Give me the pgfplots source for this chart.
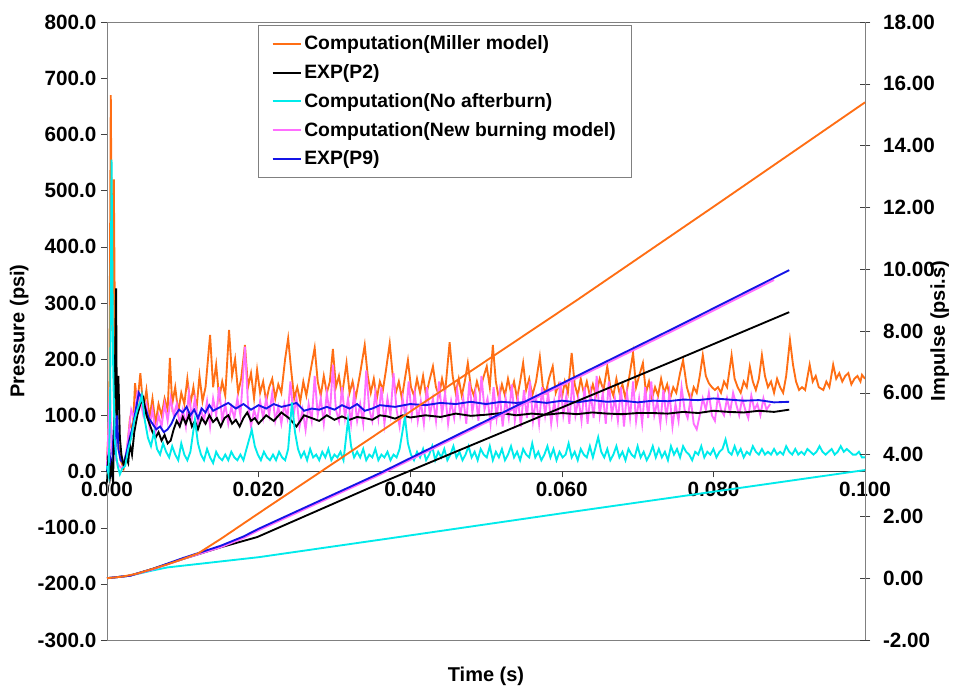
\documentclass[border=0pt]{standalone}
\usepackage{fontspec}
\setmainfont{Liberation Sans}
\usepackage{pgfplots}
\pgfplotsset{compat=1.18}
\definecolor{cOr}{RGB}{255,110,20}
\definecolor{cCy}{RGB}{0,235,235}
\definecolor{cMa}{RGB}{255,110,255}
\definecolor{cBl}{RGB}{20,20,230}
\definecolor{cFr}{RGB}{128,128,128}
\begin{document}
\begin{tikzpicture}
\useasboundingbox (-80.25pt,-37.5pt) rectangle (636pt,480pt);
\begin{axis}[
 at={(0pt,0pt)}, anchor=south west, scale only axis, width=568.5pt, height=463.5pt,
 xmin=0, xmax=0.1, ymin=-300, ymax=800, clip=false,
 axis x line=middle, axis y line=left,
 hide obscured x ticks=false, hide obscured y ticks=false,
 every inner x axis line/.append style={-},
 every outer y axis line/.append style={-},
 x axis line style={-, draw=black!75},
 y axis line style={-, draw=cFr},
 xtick={0,0.02,0.04,0.06,0.08,0.1},
 xticklabels={0.000,0.020,0.040,0.060,0.080,0.100},
 ytick={-300,-200,-100,0,100,200,300,400,500,600,700,800},
 yticklabels={-300.0,-200.0,-100.0,0.0,100.0,200.0,300.0,400.0,500.0,600.0,700.0,800.0},
 tick align=outside, major tick length=4.5pt,
 xtick style={draw=black!75}, ytick style={draw=black!75},
 /pgf/number format/assume math mode=true,
 ticklabel style={font=\bfseries\fontsize{15.5}{18}\selectfont},
 label style={font=\bfseries\fontsize{15}{18}\selectfont},
 xlabel={Time (s)}, xlabel style={at={(rel axis cs:0.5,0)}, anchor=north, yshift=-17pt},
 ylabel={Pressure (psi)},
 legend style={at={(rel axis cs:0.1992,0.9951)}, anchor=north west, draw=cFr,
   font=\bfseries\fontsize{14.5}{17}\selectfont, row sep=5.5pt, inner xsep=10pt, inner ysep=6pt,
   cells={anchor=west}},
 legend image code/.code={\draw[#1, line width=1.5pt] (0pt,0pt) -- (21pt,0pt);},
]
\draw[cFr] (rel axis cs:0,0) rectangle (rel axis cs:1,1);
\addplot[cOr, line width=1.4pt] coordinates {
(0,20)(0.0003,100)(0.0005,670)(0.0007,250)(0.0009,520)(0.0011,150)(0.0014,60)(0.0018,20)(0.0022,5)(0.0026,30)
(0.0030,90)(0.0034,70)(0.0037,157)(0.0040,120)(0.0044,175)(0.0048,110)(0.0052,145)(0.0056,95)(0.0060,130)(0.0064,85)
(0.0068,120)(0.0072,100)(0.0076,130)(0.0080,110)(0.0083,202)(0.0086,120)(0.0090,150)(0.0094,105)(0.0098,140)(0.0102,120)
(0.0106,165)(0.0110,120)(0.0114,150)(0.0118,110)(0.0122,170)(0.0126,125)(0.0130,150)(0.0136,243)(0.0140,150)(0.0144,190)
(0.0148,130)(0.0152,160)(0.0156,135)(0.0161,252)(0.0165,170)(0.0169,200)(0.0173,140)(0.0177,165)(0.0182,225)(0.0186,150)
(0.0190,175)(0.0194,130)(0.0198,181)(0.0202,140)(0.0206,160)(0.0210,125)(0.0214,150)(0.0218,165)(0.0222,130)(0.0226,155)
(0.0230,140)(0.0235,200)(0.0239,237)(0.0243,180)(0.0247,130)(0.0251,150)(0.0255,125)(0.0259,160)(0.0263,135)(0.0268,175)
(0.0274,220)(0.0278,160)(0.0282,135)(0.0286,170)(0.0290,140)(0.0294,160)(0.0298,218)(0.0302,150)(0.0306,170)(0.0310,135)
(0.0316,193)(0.0320,140)(0.0324,160)(0.0328,130)(0.0334,175)(0.0340,225)(0.0344,170)(0.0348,140)(0.0352,165)(0.0356,130)
(0.0360,160)(0.0364,145)(0.0368,180)(0.0373,228)(0.0377,170)(0.0381,140)(0.0385,160)(0.0389,130)(0.0393,165)(0.0397,198)
(0.0401,150)(0.0405,135)(0.0409,165)(0.0413,140)(0.0417,170)(0.0421,135)(0.0425,160)(0.0430,187)(0.0434,150)(0.0438,135)
(0.0442,165)(0.0446,140)(0.0452,230)(0.0456,170)(0.0460,140)(0.0464,165)(0.0468,135)(0.0472,160)(0.0476,193)(0.0480,150)
(0.0484,135)(0.0488,160)(0.0492,140)(0.0496,165)(0.0501,187)(0.0505,150)(0.0509,225)(0.0513,160)(0.0517,130)(0.0521,155)
(0.0525,135)(0.0529,165)(0.0533,140)(0.0537,160)(0.0541,130)(0.0545,160)(0.0549,193)(0.0553,145)(0.0557,165)(0.0561,135)
(0.0566,160)(0.0571,204)(0.0575,150)(0.0579,140)(0.0583,165)(0.0588,187)(0.0592,140)(0.0596,155)(0.0600,130)(0.0604,160)
(0.0608,140)(0.0613,211)(0.0617,155)(0.0621,135)(0.0625,165)(0.0629,140)(0.0633,160)(0.0637,135)(0.0641,155)(0.0645,135)
(0.0650,165)(0.0655,145)(0.0660,187)(0.0664,150)(0.0668,135)(0.0672,165)(0.0676,140)(0.0680,155)(0.0684,130)(0.0688,160)
(0.0694,211)(0.0698,150)(0.0702,170)(0.0707,193)(0.0711,140)(0.0715,160)(0.0719,130)(0.0723,150)(0.0727,135)(0.0731,165)
(0.0735,140)(0.0739,155)(0.0743,130)(0.0747,150)(0.0751,140)(0.0756,175)(0.0760,198)(0.0765,150)(0.0770,127)(0.0774,150)
(0.0778,140)(0.0782,170)(0.0786,207)(0.0790,170)(0.0794,157)(0.0798,150)(0.0802,145)(0.0806,150)(0.0810,140)(0.0814,160)
(0.0818,150)(0.0824,207)(0.0828,165)(0.0832,150)(0.0836,140)(0.0840,160)(0.0844,150)(0.0848,187)(0.0852,160)(0.0856,145)
(0.0860,165)(0.0864,207)(0.0868,170)(0.0872,150)(0.0876,160)(0.0880,140)(0.0884,165)(0.0888,150)(0.0892,140)(0.0896,170)
(0.0901,234)(0.0905,190)(0.0909,160)(0.0913,145)(0.0917,150)(0.0921,145)(0.0927,190)(0.0931,160)(0.0935,170)(0.0939,150)
(0.0945,145)(0.0949,160)(0.0953,150)(0.0958,190)(0.0962,165)(0.0966,175)(0.0970,160)(0.0974,170)(0.0978,175)(0.0982,155)
(0.0986,165)(0.0990,170)(0.0994,160)(0.0996,172)(0.1000,165)};
\addlegendentry{Computation(Miller model)}
\addplot[cMa, line width=1.4pt, forget plot] coordinates {
(0,10)(0.0004,150)(0.0006,30)(0.0009,60)(0.0012,20)(0.0016,10)(0.0020,5)(0.0024,20)(0.0028,60)(0.0032,110)
(0.0036,95)(0.0040,140)(0.0044,125)(0.0048,100)(0.0052,120)(0.0056,80)(0.0060,110)(0.0064,70)(0.0068,100)(0.0072,80)
(0.0076,120)(0.0080,90)(0.0084,130)(0.0088,100)(0.0092,120)(0.0096,85)(0.0100,110)(0.0104,80)(0.0108,140)(0.0112,95)
(0.0116,130)(0.0120,85)(0.0124,110)(0.0128,90)(0.0132,125)(0.0136,80)(0.0140,130)(0.0144,100)(0.0148,150)(0.0152,90)
(0.0156,120)(0.0160,85)(0.0164,115)(0.0168,95)(0.0172,130)(0.0176,100)(0.0182,222)(0.0186,120)(0.0190,80)(0.0194,110)
(0.0198,90)(0.0202,125)(0.0206,95)(0.0210,130)(0.0214,100)(0.0218,140)(0.0222,90)(0.0226,115)(0.0230,85)(0.0234,120)
(0.0238,95)(0.0242,160)(0.0246,100)(0.0250,130)(0.0254,80)(0.0258,110)(0.0262,74)(0.0266,120)(0.0270,90)(0.0274,170)
(0.0278,100)(0.0282,130)(0.0286,85)(0.0290,140)(0.0294,100)(0.0298,190)(0.0302,110)(0.0306,90)(0.0310,150)(0.0314,95)
(0.0318,130)(0.0322,85)(0.0326,140)(0.0330,90)(0.0334,120)(0.0338,85)(0.0342,180)(0.0346,110)(0.0350,90)(0.0354,140)
(0.0358,95)(0.0362,150)(0.0366,85)(0.0370,130)(0.0374,100)(0.0378,175)(0.0382,110)(0.0386,80)(0.0390,130)(0.0394,95)
(0.0398,160)(0.0402,100)(0.0406,140)(0.0410,90)(0.0414,125)(0.0418,85)(0.0422,150)(0.0426,100)(0.0430,130)(0.0434,90)
(0.0438,160)(0.0442,100)(0.0446,140)(0.0450,85)(0.0454,125)(0.0458,95)(0.0462,145)(0.0466,100)(0.0470,130)(0.0474,85)
(0.0478,160)(0.0482,105)(0.0486,140)(0.0490,90)(0.0494,170)(0.0498,110)(0.0502,130)(0.0506,85)(0.0510,150)(0.0514,95)
(0.0518,140)(0.0522,80)(0.0526,130)(0.0530,95)(0.0534,155)(0.0538,90)(0.0542,130)(0.0546,80)(0.0550,145)(0.0554,95)
(0.0558,160)(0.0562,90)(0.0566,130)(0.0570,85)(0.0574,150)(0.0578,100)(0.0582,140)(0.0586,85)(0.0590,125)(0.0594,90)
(0.0598,160)(0.0602,100)(0.0606,135)(0.0610,85)(0.0614,165)(0.0618,100)(0.0622,130)(0.0626,90)(0.0630,150)(0.0634,85)
(0.0638,140)(0.0642,95)(0.0646,170)(0.0650,100)(0.0654,140)(0.0658,85)(0.0662,160)(0.0666,100)(0.0670,130)(0.0674,90)
(0.0678,150)(0.0682,80)(0.0686,140)(0.0690,95)(0.0694,160)(0.0698,90)(0.0702,130)(0.0706,85)(0.0710,150)(0.0714,95)
(0.0718,160)(0.0722,100)(0.0726,125)(0.0730,85)(0.0734,145)(0.0738,95)(0.0742,140)(0.0746,80)(0.0750,120)(0.0754,90)
(0.0758,150)(0.0762,110)(0.0766,95)(0.0770,130)(0.0774,85)(0.0778,75)(0.0782,100)(0.0786,130)(0.0790,110)(0.0794,140)
(0.0798,100)(0.0802,90)(0.0806,135)(0.0810,110)(0.0814,100)(0.0818,130)(0.0822,105)(0.0826,140)(0.0830,120)(0.0834,100)
(0.0838,130)(0.0842,110)(0.0846,95)(0.0850,135)(0.0854,110)(0.0858,120)(0.0862,100)(0.0866,130)(0.0870,110)(0.0875,120)};
\addplot[cBl, line width=1.4pt, forget plot] coordinates {
(0,0)(0.0003,40)(0.0006,-10)(0.0009,80)(0.0011,30)(0.0013,120)(0.0015,40)(0.0018,20)(0.0022,15)(0.0026,35)
(0.0030,60)(0.0034,80)(0.0038,110)(0.0042,140)(0.0046,130)(0.0050,115)(0.0055,95)(0.0060,85)(0.0065,75)(0.0070,80)
(0.0075,70)(0.0080,75)(0.0085,85)(0.0090,100)(0.0095,110)(0.0100,105)(0.0105,115)(0.0110,100)(0.0115,110)(0.0120,95)
(0.0125,112)(0.0130,105)(0.0135,118)(0.0140,108)(0.0150,115)(0.0160,122)(0.0170,112)(0.0180,120)(0.0190,110)(0.0200,118)
(0.0210,112)(0.0220,120)(0.0230,115)(0.0240,118)(0.0250,122)(0.0260,108)(0.0270,112)(0.0280,110)(0.0290,115)(0.0300,110)
(0.0310,118)(0.0320,112)(0.0330,120)(0.0340,108)(0.0350,112)(0.0360,118)(0.0380,115)(0.0400,120)(0.0420,118)(0.0440,122)
(0.0460,120)(0.0480,124)(0.0500,120)(0.0520,124)(0.0540,122)(0.0560,125)(0.0580,122)(0.0600,126)(0.0620,123)(0.0640,127)
(0.0660,124)(0.0680,126)(0.0700,123)(0.0720,126)(0.0740,125)(0.0760,128)(0.0780,127)(0.0800,130)(0.0820,128)(0.0840,126)
(0.0860,127)(0.0880,123)(0.0900,124)};
\addplot[black, line width=1.4pt] coordinates {
(0,-20)(0.0002,30)(0.0004,-10)(0.0006,10)(0.0008,-20)(0.0010,130)(0.0012,326)(0.0013,100)(0.0015,170)(0.0017,60)
(0.0019,30)(0.0022,10)(0.0025,25)(0.0028,15)(0.0030,50)(0.0033,30)(0.0036,70)(0.0040,100)(0.0044,120)(0.0048,131)
(0.0052,100)(0.0056,85)(0.0060,70)(0.0064,60)(0.0068,70)(0.0072,55)(0.0076,65)(0.0080,50)(0.0084,55)(0.0088,75)
(0.0092,90)(0.0096,80)(0.0100,97)(0.0104,85)(0.0108,100)(0.0112,80)(0.0116,90)(0.0120,75)(0.0125,95)(0.0130,85)
(0.0135,100)(0.0140,88)(0.0145,95)(0.0150,80)(0.0155,95)(0.0160,100)(0.0165,85)(0.0170,92)(0.0175,80)(0.0180,95)
(0.0185,105)(0.0190,90)(0.0195,95)(0.0200,85)(0.0210,100)(0.0220,90)(0.0230,105)(0.0240,95)(0.0250,80)(0.0260,100)
(0.0270,95)(0.0280,90)(0.0290,100)(0.0300,92)(0.0310,98)(0.0320,92)(0.0330,97)(0.0340,95)(0.0350,92)(0.0360,100)
(0.0370,98)(0.0380,94)(0.0390,100)(0.0400,96)(0.0420,100)(0.0440,97)(0.0460,103)(0.0480,99)(0.0500,101)(0.0520,104)
(0.0540,100)(0.0560,103)(0.0580,101)(0.0600,104)(0.0620,102)(0.0640,105)(0.0660,103)(0.0680,102)(0.0700,104)(0.0720,104)
(0.0740,103)(0.0760,106)(0.0780,104)(0.0800,108)(0.0820,106)(0.0840,105)(0.0860,108)(0.0880,106)(0.0900,110)};
\addlegendentry{EXP(P2)}
\addplot[cCy, line width=1.4pt] coordinates {
(0,10)(0.0002,-5)(0.0004,100)(0.0006,555)(0.0008,200)(0.0010,60)(0.0012,30)(0.0014,10)(0.0017,-5)(0.0020,5)
(0.0024,10)(0.0028,40)(0.0032,60)(0.0036,90)(0.0040,110)(0.0044,125)(0.0046,136)(0.0050,90)(0.0054,60)(0.0058,45)
(0.0062,70)(0.0066,40)(0.0070,30)(0.0074,50)(0.0078,35)(0.0082,25)(0.0086,45)(0.0090,30)(0.0094,20)(0.0098,50)
(0.0102,30)(0.0106,20)(0.0110,35)(0.0116,92)(0.0120,50)(0.0124,30)(0.0128,20)(0.0132,40)(0.0136,25)(0.0140,15)
(0.0144,35)(0.0148,25)(0.0152,20)(0.0156,30)(0.0160,20)(0.0164,35)(0.0168,25)(0.0172,20)(0.0176,30)(0.0180,20)
(0.0184,40)(0.0191,74)(0.0195,45)(0.0199,30)(0.0203,20)(0.0207,35)(0.0211,25)(0.0215,20)(0.0219,30)(0.0223,20)
(0.0227,35)(0.0231,25)(0.0235,20)(0.0239,40)(0.0244,123)(0.0248,70)(0.0252,40)(0.0256,25)(0.0260,35)(0.0264,20)
(0.0268,40)(0.0272,25)(0.0276,30)(0.0280,20)(0.0284,35)(0.0288,25)(0.0292,40)(0.0296,20)(0.0300,30)(0.0304,25)
(0.0308,35)(0.0312,20)(0.0318,92)(0.0322,45)(0.0326,25)(0.0330,35)(0.0334,25)(0.0338,40)(0.0342,20)(0.0346,30)
(0.0350,25)(0.0354,40)(0.0358,20)(0.0362,30)(0.0366,25)(0.0370,35)(0.0374,20)(0.0378,30)(0.0382,25)(0.0386,40)
(0.0393,97)(0.0397,50)(0.0401,30)(0.0405,20)(0.0409,35)(0.0413,25)(0.0417,40)(0.0421,20)(0.0425,30)(0.0429,45)
(0.0433,20)(0.0437,35)(0.0441,25)(0.0445,40)(0.0449,20)(0.0453,30)(0.0457,45)(0.0461,25)(0.0465,35)(0.0469,20)
(0.0473,30)(0.0477,45)(0.0481,25)(0.0485,35)(0.0489,20)(0.0493,40)(0.0497,30)(0.0501,25)(0.0505,45)(0.0509,20)
(0.0513,35)(0.0517,25)(0.0521,40)(0.0525,20)(0.0529,30)(0.0533,45)(0.0537,25)(0.0541,35)(0.0545,20)(0.0549,40)
(0.0553,30)(0.0557,25)(0.0561,50)(0.0565,25)(0.0569,35)(0.0573,20)(0.0577,30)(0.0581,45)(0.0585,25)(0.0589,40)
(0.0593,20)(0.0597,35)(0.0601,25)(0.0605,30)(0.0609,50)(0.0613,25)(0.0617,35)(0.0621,20)(0.0625,40)(0.0629,30)
(0.0633,25)(0.0637,45)(0.0641,25)(0.0648,61)(0.0652,35)(0.0656,25)(0.0660,40)(0.0664,20)(0.0668,30)(0.0672,45)
(0.0676,25)(0.0680,35)(0.0684,20)(0.0688,40)(0.0692,30)(0.0696,25)(0.0700,45)(0.0704,25)(0.0708,35)(0.0712,20)
(0.0716,30)(0.0720,45)(0.0724,25)(0.0728,40)(0.0732,25)(0.0736,35)(0.0740,20)(0.0744,45)(0.0748,30)(0.0752,40)
(0.0756,25)(0.0760,45)(0.0764,35)(0.0768,30)(0.0772,20)(0.0776,35)(0.0780,30)(0.0784,45)(0.0788,25)(0.0792,35)
(0.0796,30)(0.0800,40)(0.0804,25)(0.0808,35)(0.0812,40)(0.0816,57)(0.0820,35)(0.0824,30)(0.0828,45)(0.0832,30)
(0.0836,40)(0.0840,25)(0.0844,35)(0.0848,30)(0.0852,45)(0.0856,35)(0.0860,30)(0.0864,40)(0.0868,30)(0.0872,35)
(0.0876,30)(0.0880,40)(0.0884,30)(0.0888,35)(0.0892,30)(0.0896,45)(0.0900,35)(0.0904,30)(0.0908,40)(0.0912,30)
(0.0916,35)(0.0920,30)(0.0924,40)(0.0928,35)(0.0932,30)(0.0936,35)(0.0940,45)(0.0944,35)(0.0948,30)(0.0952,35)
(0.0956,40)(0.0960,30)(0.0964,35)(0.0968,45)(0.0972,35)(0.0976,40)(0.0980,35)(0.0984,30)(0.0988,30)(0.0992,35)
(0.0996,25)(0.1000,25)};
\addlegendentry{Computation(No afterburn)}
\addlegendimage{cMa}
\addlegendentry{Computation(New burning model)}
\addlegendimage{cBl}
\addlegendentry{EXP(P9)}
\end{axis}
\begin{axis}[
 at={(0pt,0pt)}, anchor=south west, scale only axis, width=568.5pt, height=463.5pt,
 xmin=0, xmax=0.1, ymin=-2, ymax=18, clip=false,
 axis y line*=right, axis x line=none,
 every outer y axis line/.append style={-},
 y axis line style={-, draw=cFr},
 ytick={-2,0,2,4,6,8,10,12,14,16,18},
 yticklabels={-2.00,0.00,2.00,4.00,6.00,8.00,10.00,12.00,14.00,16.00,18.00},
 tick align=center, major tick length=8pt,
 ytick style={draw=black!75},
 /pgf/number format/assume math mode=true,
 ticklabel style={font=\bfseries\fontsize{15.5}{18}\selectfont},
 yticklabel style={xshift=6pt},
 ylabel={Impulse (psi.s)},
 every axis y label/.style={at={(rel axis cs:1,0.5)}, xshift=56pt, rotate=90, anchor=center,
   font=\bfseries\fontsize{15}{18}\selectfont},
]
\addplot[cCy, line width=1.4pt] coordinates {
(0,0)(0.003,0.08)(0.006,0.25)(0.008,0.35)(0.020,0.68)(0.0373,1.29)(0.060,2.1)(0.080,2.8)(0.100,3.5)};
\addplot[black, line width=1.4pt] coordinates {
(0,0)(0.003,0.08)(0.006,0.3)(0.010,0.62)(0.015,1.0)(0.0198,1.33)(0.036,3.07)(0.0756,7.12)(0.090,8.61)};
\addplot[cMa, line width=1.4pt] coordinates {
(0,0)(0.003,0.08)(0.006,0.28)(0.010,0.62)(0.015,1.0)(0.018,1.3)(0.020,1.55)(0.036,3.35)(0.0756,8.12)(0.088,9.65)};
\addplot[cBl, line width=1.4pt] coordinates {
(0,0)(0.003,0.08)(0.006,0.3)(0.010,0.65)(0.015,1.05)(0.018,1.35)(0.020,1.6)(0.036,3.40)(0.0756,8.19)(0.090,9.97)};
\addplot[cOr, line width=1.4pt] coordinates {
(0,0)(0.002,0.05)(0.004,0.15)(0.006,0.3)(0.008,0.45)(0.010,0.62)(0.012,0.8)(0.015,1.27)(0.020,2.1)(0.0281,3.43)(0.040,5.39)(0.062,9.0)(0.080,12.02)(0.100,15.4)};
\end{axis}
\end{tikzpicture}
\end{document}
